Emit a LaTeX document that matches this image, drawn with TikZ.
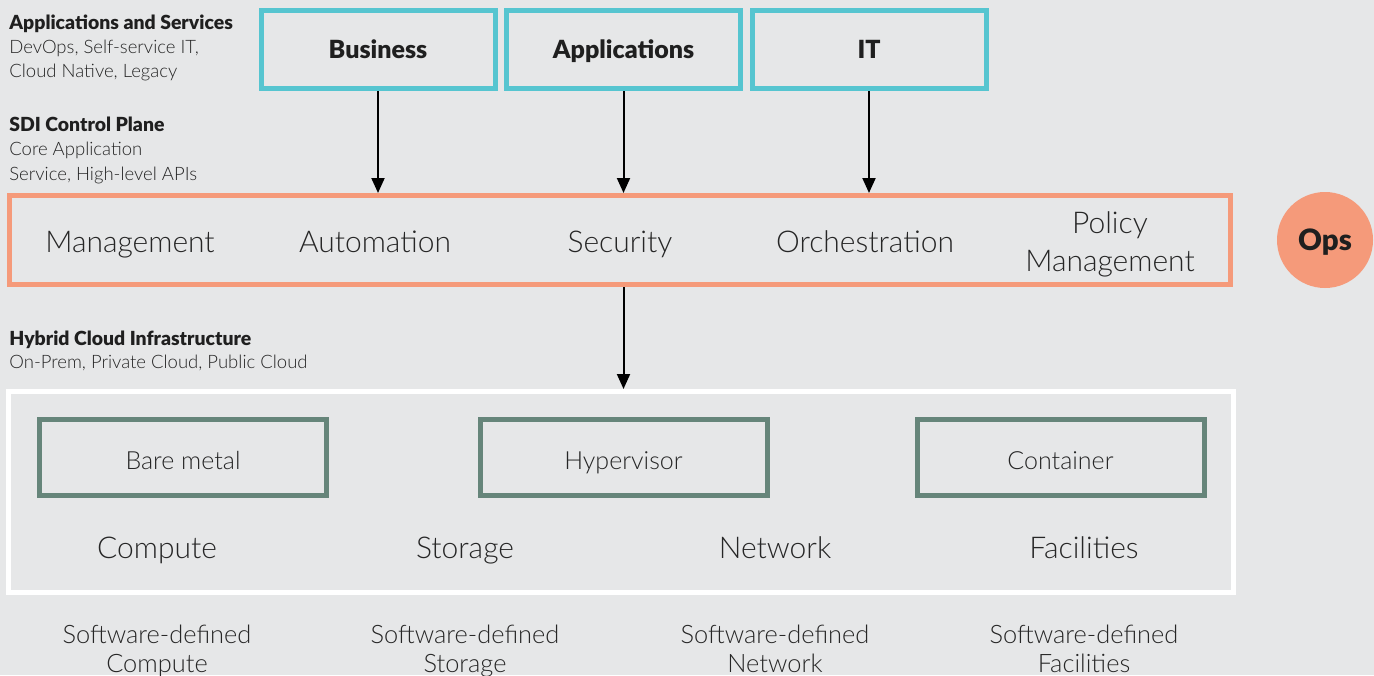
\documentclass[tikz,border=0pt]{standalone}
\usepackage{fontspec}
\setmainfont{Lato}[UprightFont={* Light}, BoldFont={* Black}]
\usetikzlibrary{arrows.meta}
\definecolor{bgcol}{HTML}{E6E7E8}
\definecolor{tealcol}{HTML}{56C5D0}
\definecolor{salmon}{HTML}{F59A7A}
\definecolor{sage}{HTML}{66857A}
\definecolor{ink}{HTML}{262626}
\definecolor{inkdark}{HTML}{1F1F1F}
\tikzset{
  lbl/.style={inner sep=0pt, text=ink, font=\fontsize{9.25}{11}\selectfont},
  lblhead/.style={inner sep=0pt, text=inkdark, font=\fontsize{9.7}{11}\selectfont\bfseries},
  topbox/.style={draw=tealcol, line width=2.5pt, minimum width=117pt, minimum height=39pt, inner sep=0pt,
    text height=8.9pt, text depth=0pt, text=inkdark, font=\fontsize{12.5}{14}\selectfont\bfseries},
  platebox/.style={draw=sage, line width=2.5pt, minimum width=143.5pt, minimum height=38pt, inner sep=0pt},
  platetext/.style={inner sep=0pt, text=ink, font=\fontsize{12.5}{15}\selectfont},
  bigtext/.style={inner sep=0pt, text=ink, font=\fontsize{15}{18}\selectfont},
  sdtext/.style={inner sep=0pt, text=ink, font=\fontsize{12.7}{15}\selectfont},
  arr/.style={line width=1pt, draw=black, -{Triangle[width=6.5pt,length=7.5pt]}},
}
\begin{document}
\begin{tikzpicture}[x=0.5pt, y=-0.5pt]
% canvas
\fill[bgcol] (0,0) rectangle (1374,675);
\useasboundingbox (0,0) rectangle (1374,675);

% left-hand legend
\node[lblhead, anchor=base west] (as1) at (9,29) {Applications and Services};
\node[lbl, anchor=base west] (as2) at (9,53) {DevOps, Self-service IT,};
\node[lbl, anchor=base west] (as3) at (9,77) {Cloud Native, Legacy};
\node[lblhead, anchor=base west] (sd1) at (9,131) {SDI Control Plane};
\node[lbl, anchor=base west] (sd2) at (9,155) {Core Application};
\node[lbl, anchor=base west] (sd3) at (9,180) {Service, High-level APIs};
\node[lblhead, anchor=base west] (hc1) at (9,345) {Hybrid Cloud Infrastructure};
\node[lbl, anchor=base west] (hc2) at (9,368) {On-Prem, Private Cloud, Public Cloud};

% consumers
\node[topbox] (biz) at (378,49.5) {Business};
\node[topbox] (app) at (623.5,49.5) {Applications};
\node[topbox] (it) at (869,49.5) {IT};

% control plane
\node[draw=salmon, line width=2.5pt, minimum width=610.5pt, minimum height=44.5pt, inner sep=0pt] (cp) at (620,240) {};
\node[bigtext, anchor=base] (mgmt) at (130,252) {Management};
\node[bigtext, anchor=base] (auto) at (375,252) {Automation};
\node[bigtext, anchor=base] (sec) at (620,252) {Security};
\node[bigtext, anchor=base] (orch) at (865,252) {Orchestration};
\node[bigtext, anchor=base] (pol1) at (1110,233) {Policy};
\node[bigtext, anchor=base] (pol2) at (1110,271) {Management};

% ops badge
\node[circle, fill=salmon, minimum size=48pt, inner sep=0pt, text=inkdark,
  text height=10.5pt, text depth=0pt,
  font=\fontsize{14.7}{17}\selectfont\bfseries] (ops) at (1325,240) {Ops};

% infrastructure
\node[draw=white, line width=2.5pt, minimum width=612.5pt, minimum height=100.5pt, inner sep=0pt] (hci) at (621,492) {};
\node[platebox] (bm) at (183,457.5) {};
\node[platebox] (hv) at (623.5,457.5) {};
\node[platebox] (ct) at (1060.5,457.5) {};
\node[platetext, anchor=base] (bmt) at (183,469) {Bare metal};
\node[platetext, anchor=base] (hvt) at (623.5,469) {Hypervisor};
\node[platetext, anchor=base] (ctt) at (1060.5,469) {Container};

\node[bigtext, anchor=base] (cmp) at (157,558) {Compute};
\node[bigtext, anchor=base] (sto) at (465,558) {Storage};
\node[bigtext, anchor=base] (net) at (775,558) {Network};
\node[bigtext, anchor=base] (fac) at (1084,558) {Facilities};

% software-defined captions
\node[sdtext, anchor=base] (sdc1) at (157,643) {Software-defined};
\node[sdtext, anchor=base] (sdc2) at (157,672) {Compute};
\node[sdtext, anchor=base] (sds1) at (465,643) {Software-defined};
\node[sdtext, anchor=base] (sds2) at (465,672) {Storage};
\node[sdtext, anchor=base] (sdn1) at (775,643) {Software-defined};
\node[sdtext, anchor=base] (sdn2) at (775,672) {Network};
\node[sdtext, anchor=base] (sdf1) at (1084,643) {Software-defined};
\node[sdtext, anchor=base] (sdf2) at (1084,672) {Facilities};

% connectors
\draw[arr] (biz.south) -- (biz.south |- cp.north);
\draw[arr] (app.south) -- (app.south |- cp.north);
\draw[arr] (it.south) -- (it.south |- cp.north);
\draw[arr] (cp.south -| app.south) -- (app.south |- hci.north);
\end{tikzpicture}
\end{document}
